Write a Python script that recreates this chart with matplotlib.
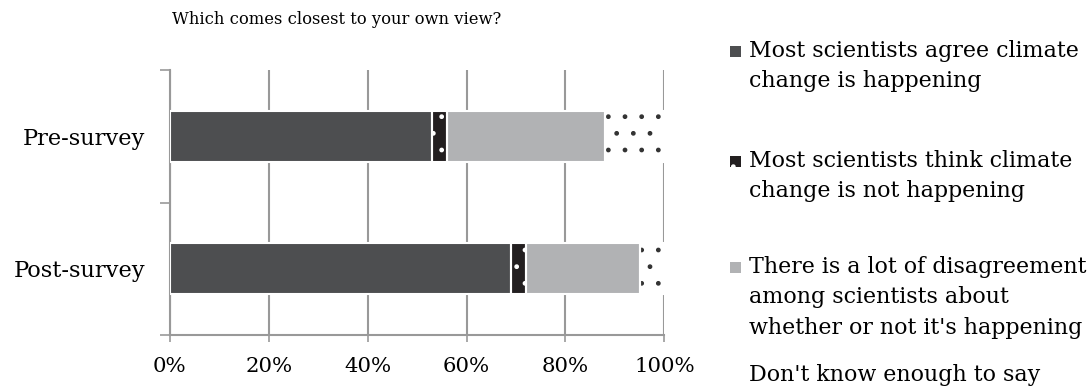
import matplotlib.pyplot as plt
from matplotlib.patches import Rectangle

# Data
groups = ["Post-survey", "Pre-survey"]
categories = [
    "Most scientists agree climate\nchange is happening",
    "Most scientists think climate\nchange is not happening",
    "There is a lot of disagreement\namong scientists about\nwhether or not it's happening",
    "Don't know enough to say",
]
values = {
    "Post-survey": [69, 3, 23, 5],
    "Pre-survey": [53, 3, 32, 12],
}
xticks = [0, 20, 40, 60, 80, 100]

# Styles
faces = ["#4d4e50", "#231f20", "#b1b2b4", "white"]
hatches = [None, ".", None, "."]
hatch_cols = ["#4d4e50", "white", "#b1b2b4", "#333333"]

plt.rcParams["font.family"] = ["DejaVu Serif"]
plt.rcParams["hatch.linewidth"] = 1.0

fig = plt.figure(figsize=(10.89, 3.92), dpi=100)
ax = fig.add_axes([0.156, 0.145, 0.454, 0.676])

for yi, g in enumerate(groups):
    left = 0
    for ci, v in enumerate(values[g]):
        ax.barh(yi, v, left=left, height=0.385, color=faces[ci],
                hatch=hatches[ci], edgecolor=hatch_cols[ci], linewidth=0,
                zorder=3)
        ax.barh(yi, v, left=left, height=0.385, fill=False,
                edgecolor="white", linewidth=1.5, zorder=4)
        left += v

ax.set_xlim(0, 100)
ax.set_ylim(-0.5, 1.5)
ax.set_xticks(xticks)
ax.set_xticklabels([f"{t}%" for t in xticks], fontsize=15.3)
ax.set_yticks([-0.5, 0.5, 1.5])
ax.set_yticklabels([])
ax.set_yticks([0, 1], minor=True)
ax.set_yticklabels(groups, minor=True, fontsize=16.2)
ax.tick_params(axis="y", which="major", length=7, color="#999999", width=1.2)
ax.tick_params(axis="y", which="minor", length=0, pad=18)
ax.tick_params(axis="x", length=5, color="#999999", width=1.2, pad=11)
ax.grid(axis="x", color="#999999", linewidth=1.5, zorder=0)
for s in ["top", "right"]:
    ax.spines[s].set_visible(False)
for s in ["left", "bottom"]:
    ax.spines[s].set_color("#999999")
    ax.spines[s].set_linewidth(1.5)

fig.text(172 / 1089, 1 - 20 / 392, "Which comes closest to your own view?",
         fontsize=11.8, va="center", ha="left")

# Legend (manual placement)
leg_y = [52, 162, 268, 376]
for ci, lab in enumerate(categories):
    y = 1 - leg_y[ci] / 392
    fig.patches.append(Rectangle((730 / 1089, y - 5 / 392), 11 / 1089, 11 / 392,
                                 transform=fig.transFigure, facecolor=faces[ci],
                                 hatch=hatches[ci], edgecolor=hatch_cols[ci],
                                 linewidth=0))
    fig.text(749 / 1089, y + 12 / 392, lab, fontsize=15.9, va="top", ha="left",
             linespacing=1.5)

fig.savefig("out.png", dpi=100)
